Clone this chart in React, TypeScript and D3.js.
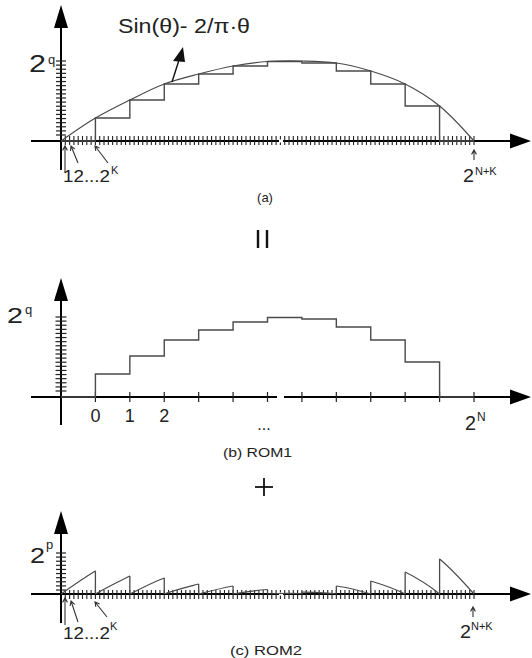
import React from "react";
import * as d3 from "d3";

// segment edges (each ROM1 address covers 2^K fine addresses)
const edges = [0, 1, 2, 3, 4, 5, 6, 7, 8, 9, 10, 11, 12];
// sin(θ) - 2/π·θ read at every segment edge
const curveVals = [0, 23, 41, 57, 67, 75, 79.5, 80, 78, 70, 57, 35, 0];
// ROM1 staircase, one value per segment
const rom1Vals = [0, 23, 41, 57, 67, 75, 79.5, 78, 70, 57, 35, 0];
const rom1Labels = ["0", "1", "2"];
const FINE = 8; // fine ticks per segment

const W = 532;
const H = 658;
const FONT = "Liberation Sans, Arial, sans-serif";
const INK = "#222";
const LINE = "#4a4a4a";

const x = d3.scaleLinear().domain([0, 12]).range([61, 474]);
const yA = d3.scaleLinear().domain([0, 80]).range([141, 61]);
const yB = d3.scaleLinear().domain([0, 80]).range([397, 317]);
const yC = d3.scaleLinear().domain([0, 41]).range([594, 553]);

const fineTicks = d3.range(1, 12 * FINE + 1).map((k) => k / FINE);
const yTicksAB = d3.range(19).map((k) => 80 - (k * 74) / 18);
const yTicksC = d3.range(10).map((k) => 41 - (k * 37) / 9);

const curveLine = (ys: d3.ScaleLinear<number, number>, shift = 0) =>
  d3
    .line<number>()
    .x((_, i) => x(edges[i]))
    .y((d) => ys(d - shift))
    .curve(d3.curveCatmullRom.alpha(0.5))(curveVals) || "";

const stairs = (ys: d3.ScaleLinear<number, number>) => {
  const pts: [number, number][] = rom1Vals.map((v, i) => [x(i), ys(v)]);
  pts.push([x(12), ys(0)]);
  return d3.line().curve(d3.curveStepAfter)(pts) || "";
};

// open arrow head, tail -> tip
const chevron = (x0: number, y0: number, x1: number, y1: number, len = 5) => {
  const a = Math.atan2(y0 - y1, x0 - x1);
  const p1 = [x1 + len * Math.cos(a - 0.5), y1 + len * Math.sin(a - 0.5)];
  const p2 = [x1 + len * Math.cos(a + 0.5), y1 + len * Math.sin(a + 0.5)];
  return `M${x0},${y0}L${x1},${y1}M${p1[0]},${p1[1]}L${x1},${y1}L${p2[0]},${p2[1]}`;
};

const Axes = ({ y0, top, bottom }: { y0: number; top: number; bottom: number }) => (
  <g>
    <line x1={31} x2={512} y1={y0} y2={y0} stroke="#000" strokeWidth={2} />
    <path d={`M531,${y0}L510,${y0 - 7.5}L510,${y0 + 7.5}Z`} fill="#000" />
    <line x1={61} x2={61} y1={bottom} y2={top + 18} stroke="#000" strokeWidth={2} />
    <path d={`M61,${top}L54,${top + 23}L68,${top + 23}Z`} fill="#000" />
  </g>
);

const Label = ({ x: lx, y: ly, size, children, anchor = "start", len }: any) => (
  <text
    x={lx}
    y={ly}
    fontSize={size}
    fontFamily={FONT}
    fill={INK}
    textAnchor={anchor}
    textLength={len}
    lengthAdjust={len ? "spacingAndGlyphs" : undefined}
  >
    {children}
  </text>
);

export default function App() {
  const axA = yA(0);
  const axB = yB(0);
  const axC = yC(0);

  return (
    <svg width={W} height={H} style={{ position: "absolute", left: 0, top: 0, background: "#fff" }}>
      <defs>
        {rom1Vals.map((_, i) => (
          <clipPath id={`seg${i}`} key={i}>
            <rect x={x(i)} y={500} width={x(i + 1) - x(i)} height={axC - 500 + 0.3} />
          </clipPath>
        ))}
      </defs>

      {/* ---------- (a) ---------- */}
      <Axes y0={axA} top={5} bottom={170} />
      {yTicksAB.map((t) => (
        <line key={t} x1={56} x2={66} y1={yA(t)} y2={yA(t)} stroke={INK} strokeWidth={1.2} />
      ))}
      {fineTicks.map((t) => (
        <line key={t} x1={x(t)} x2={x(t)} y1={axA - 5} y2={axA + 4} stroke={INK} strokeWidth={1.1} />
      ))}
      <rect x={279} y={axA - 1.5} width={4} height={3} fill="#fff" />
      <path d={stairs(yA)} fill="none" stroke={LINE} strokeWidth={1.4} />
      <path d={curveLine(yA)} fill="none" stroke={LINE} strokeWidth={1.2} />
      <line x1={172} y1={82} x2={179} y2={60} stroke="#111" strokeWidth={1.4} />
      <path d="M183,47L173,61L185,62Z" fill="#111" />
      <Label x={118} y={33} size={20} len={132}>Sin(θ)- 2/π·θ</Label>
      <Label x={29} y={72} size={24} len={17}>2</Label>
      <Label x={48} y={64} size={13}>q</Label>
      <path d={chevron(65, 173, 65, 146)} fill="none" stroke="#333" strokeWidth={1.1} />
      <path d={chevron(78, 163, 71, 146)} fill="none" stroke="#333" strokeWidth={1.1} />
      <path d={chevron(108, 163, 95, 146)} fill="none" stroke="#333" strokeWidth={1.1} />
      <Label x={63} y={182} size={17} len={47}>12...2</Label>
      <Label x={111} y={174} size={11}>K</Label>
      <path d={chevron(474, 160, 474, 150)} fill="none" stroke="#333" strokeWidth={1.1} />
      <Label x={463} y={182} size={19} len={11}>2</Label>
      <Label x={475} y={175} size={11}>N+K</Label>
      <Label x={265} y={202} size={13} anchor="middle">(a)</Label>

      {/* equals, rotated */}
      <line x1={258} x2={258} y1={230} y2={248} stroke="#111" strokeWidth={2.4} />
      <line x1={267} x2={267} y1={230} y2={248} stroke="#111" strokeWidth={2.4} />

      {/* ---------- (b) ROM1 ---------- */}
      <Axes y0={axB} top={278} bottom={425} />
      {yTicksAB.map((t) => (
        <line key={t} x1={55.5} x2={66.5} y1={yB(t)} y2={yB(t)} stroke={INK} strokeWidth={1.2} />
      ))}
      {edges.slice(1).map((t) => (
        <line key={t} x1={x(t)} x2={x(t)} y1={axB - 5} y2={axB + 5} stroke={INK} strokeWidth={1.2} />
      ))}
      <rect x={277} y={axB - 1.5} width={7} height={3} fill="#fff" />
      <path d={stairs(yB)} fill="none" stroke={LINE} strokeWidth={1.4} />
      <Label x={7} y={323} size={22} len={16}>2</Label>
      <Label x={25} y={314} size={13}>q</Label>
      {rom1Labels.map((l, i) => (
        <Label key={l} x={x(i + 1)} y={422} size={18} anchor="middle">{l}</Label>
      ))}
      <Label x={264} y={430} size={16} anchor="middle">...</Label>
      <Label x={465} y={430} size={20} len={11}>2</Label>
      <Label x={477} y={421} size={12}>N</Label>
      <Label x={257.5} y={457} size={13} anchor="middle" len={69}>(b) ROM1</Label>

      {/* plus */}
      <line x1={255} x2={273} y1={487} y2={487} stroke="#111" strokeWidth={1.8} />
      <line x1={264} x2={264} y1={478} y2={496} stroke="#111" strokeWidth={1.8} />

      {/* ---------- (c) ROM2 ---------- */}
      <Axes y0={axC} top={511} bottom={623} />
      {yTicksC.map((t) => (
        <line key={t} x1={56} x2={66} y1={yC(t)} y2={yC(t)} stroke={INK} strokeWidth={1.2} />
      ))}
      {fineTicks.map((t) => (
        <line key={t} x1={x(t)} x2={x(t)} y1={axC - 4} y2={axC + 5} stroke={INK} strokeWidth={1.1} />
      ))}
      <rect x={279} y={axC - 1.5} width={4} height={3} fill="#fff" />
      {rom1Vals.map((s, i) => {
        const rising = curveVals[i + 1] >= curveVals[i];
        const e = rising ? i + 1 : i;
        return (
          <g key={i}>
            <path
              d={curveLine(yC, s)}
              fill="none"
              stroke={LINE}
              strokeWidth={1.2}
              clipPath={`url(#seg${i})`}
            />
            <line x1={x(e)} x2={x(e)} y1={axC} y2={yC(curveVals[e] - s)} stroke={LINE} strokeWidth={1.3} />
          </g>
        );
      })}
      <Label x={30} y={563} size={22} len={15}>2</Label>
      <Label x={46} y={549} size={13}>p</Label>
      <path d={chevron(65, 625, 65, 598)} fill="none" stroke="#333" strokeWidth={1.1} />
      <path d={chevron(78, 622, 71, 601)} fill="none" stroke="#333" strokeWidth={1.1} />
      <path d={chevron(107, 617, 95, 602)} fill="none" stroke="#333" strokeWidth={1.1} />
      <Label x={63} y={639} size={17} len={47}>12...2</Label>
      <Label x={110} y={630} size={11}>K</Label>
      <path d={chevron(473, 617, 473, 607)} fill="none" stroke="#333" strokeWidth={1.1} />
      <Label x={460} y={638} size={19} len={11}>2</Label>
      <Label x={471} y={630} size={11}>N+K</Label>
      <Label x={266} y={655} size={13} anchor="middle" len={72}>(c) ROM2</Label>
    </svg>
  );
}
